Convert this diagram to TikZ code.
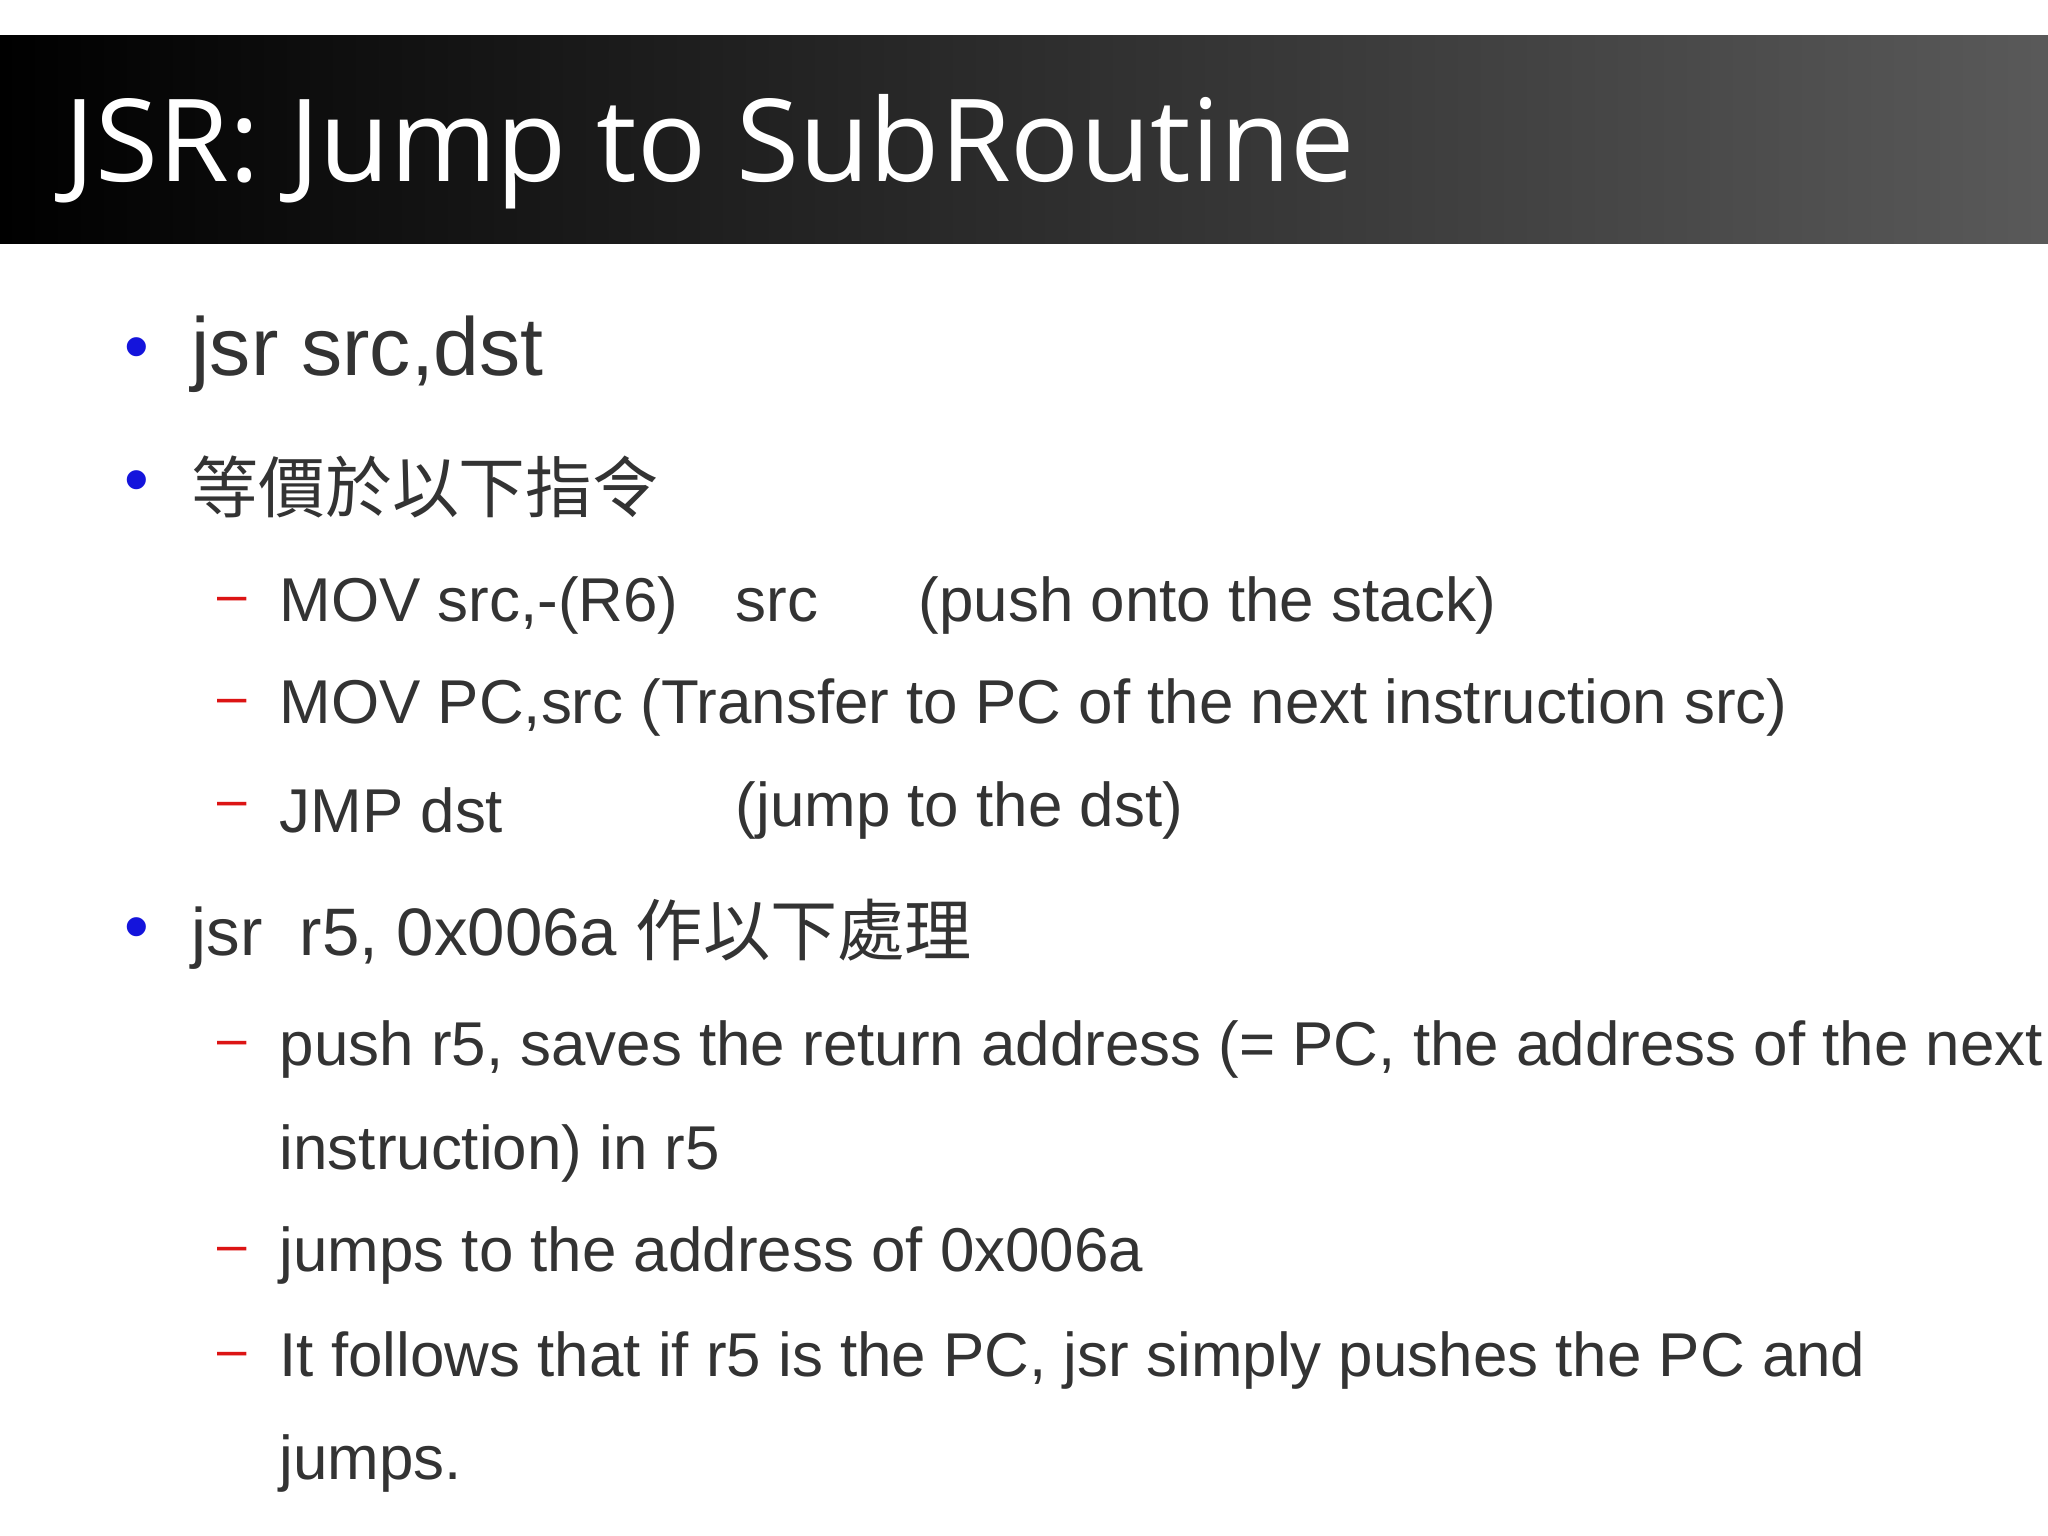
\documentclass[tikz,border=0pt]{standalone}
\usepackage{fontspec}
\setmainfont{Liberation Sans}
\newfontfamily\titlefont{Open Sans}
\newfontfamily\cjk{Noto Sans CJK TC}
\begin{document}
\begin{tikzpicture}[x=0.01cm,y=-0.01cm,
  txt/.style={anchor=west,inner sep=0pt,text=black!80},
  lvone/.style={txt,font=\fontsize{23.4}{28}\selectfont},
  lvonesm/.style={txt,font=\fontsize{19.1}{24}\selectfont},
  lvtwo/.style={txt,font=\fontsize{17.6}{22}\selectfont},
  bul/.style={anchor=center,inner sep=0pt,text={rgb,255:red,20;green,20;blue,220},font=\fontsize{20}{24}\selectfont},
  dsh/.style={anchor=center,inner sep=0pt,text={rgb,255:red,220;green,20;blue,20},font=\fontsize{15}{20}\selectfont}]
\useasboundingbox (0,0) rectangle (2048,1535);
\fill[white] (0,0) rectangle (2048,1535);
\shade[left color=black,right color=black!65] (0,35) rectangle (2048,243);
\node[anchor=west,inner sep=0pt,text=white,font=\titlefont\fontsize{32.6}{36}\selectfont] (title) at (64,152) {JSR: Jump to SubRoutine};
% level 1
\node[bul] (b1) at (137,354) {•};
\node[lvone] (t1) at (191,354) {jsr src,dst};
\node[bul] (b2) at (137,487) {•};
\node[txt,font=\cjk\fontsize{19}{24}\selectfont] (t2) at (191,487) {等價於以下指令};
\node[dsh] (d1) at (232,605) {–};
\node[lvtwo] (s1) at (279,605) {MOV src,-(R6)};
\node[lvtwo] (s1b) at (735,605) {src};
\node[lvtwo] (s1c) at (918,605) {(push onto the stack)};
\node[dsh] (d2) at (232,707) {–};
\node[lvtwo] (s2) at (279,707) {MOV PC,src (Transfer to PC of the next instruction src)};
\node[dsh] (d3) at (232,810) {–};
\node[lvtwo] (s3) at (279,810) {JMP dst};
\node[lvtwo] (s3b) at (735,810) {(jump to the dst)};
\node[bul] (b3) at (137,934) {•};
\node[lvonesm] (t3) at (191,934) {jsr\ \ r5, 0x006a {\cjk 作以下處理}};
\node[dsh] (d4) at (232,1049) {–};
\node[lvtwo] (s4) at (279,1049) {push r5, saves the return address (= PC, the address of the next};
\node[lvtwo] (s4b) at (279,1153) {instruction) in r5};
\node[dsh] (d5) at (232,1255) {–};
\node[lvtwo] (s5) at (279,1255) {jumps to the address of 0x006a};
\node[dsh] (d6) at (232,1360) {–};
\node[lvtwo] (s6) at (279,1360) {It follows that if r5 is the PC, jsr simply pushes the PC and};
\node[lvtwo] (s6b) at (279,1463) {jumps.};
\end{tikzpicture}
\end{document}
